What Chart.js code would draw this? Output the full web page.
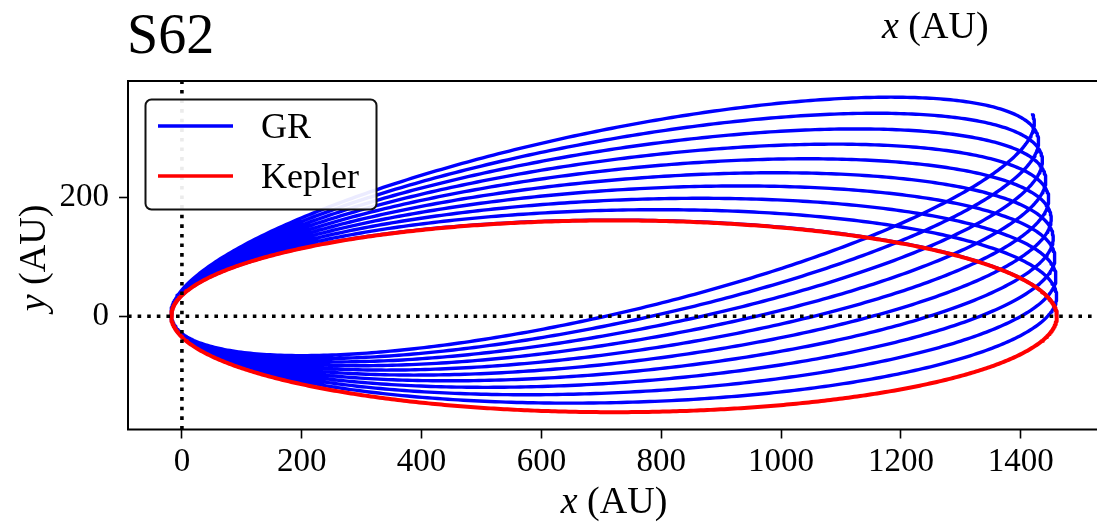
<!DOCTYPE html>
<html><head><meta charset="utf-8">
<script src="https://cdn.jsdelivr.net/npm/chart.js@4/dist/chart.umd.min.js"></script>
<style>
html,body{margin:0;padding:0;background:#fff;overflow:hidden;width:1097px;height:524px}
#wrap{position:absolute;left:0;top:0;width:1200px;height:524px}
</style>
</head><body><div id="wrap"><canvas id="c" width="1200" height="524"></canvas></div>
<script>
// ---- data ----
const panelTitle = 'S62';
const seriesLabels = ['GR', 'Kepler'];
const seriesColors = ['#0000ff', '#ff0000'];
const semiMajorAxisAU = 739;
const eccentricity = 0.976;
// orientation (deg) of the apocentre of each successive GR loop
const grApocentreAnglesDeg = [0, 1.32, 2.64, 3.96, 5.28, 6.60, 7.92, 9.24, 10.56, 11.88, 13.20];
const grFinalOvershootDeg = [0.3];
const keplerApocentreAngleDeg = [0];
const xTickValues = [0, 200, 400, 600, 800, 1000, 1200, 1400];
const yTickValues = [0, 200];
const xRange = [-90, 1574];
const yRange = [-190, 395];
const xAxisLabel = ['x', ' (AU)'];
const yAxisLabel = ['y', ' (AU)'];

// ---- build trajectories (orbit equation) ----
const bAU = semiMajorAxisAU * Math.sqrt(1 - eccentricity * eccentricity);
const kFac = Math.sqrt((1 - eccentricity) / (1 + eccentricity));
function posAt(Ep, omegaDeg) {
  const X = semiMajorAxisAU * (eccentricity + Math.cos(Ep));
  const Y = bAU * Math.sin(Ep);
  const w = omegaDeg * Math.PI / 180;
  return {x: X * Math.cos(w) - Y * Math.sin(w), y: X * Math.sin(w) + Y * Math.cos(w)};
}
function psiOf(Ep) { return 2 * Math.atan2(kFac * Math.sin(Ep / 2), Math.cos(Ep / 2)); }
function loop(w0, w1, n) {
  const pts = [];
  for (let i = 0; i <= n; i++) {
    const Ep = 2 * Math.PI * i / n;
    const f = psiOf(Ep) / (2 * Math.PI);
    pts.push(posAt(Ep, w0 + (w1 - w0) * f));
  }
  return pts;
}
const grPoints = [];
for (let k = 0; k < grApocentreAnglesDeg.length - 1; k++) {
  const p = loop(grApocentreAnglesDeg[k], grApocentreAnglesDeg[k + 1], 500);
  if (k > 0) p.shift();
  grPoints.push(...p);
}
(function () {
  const wLast = grApocentreAnglesDeg[grApocentreAnglesDeg.length - 1];
  const psiEnd = grFinalOvershootDeg[0] * Math.PI / 180;
  const EpEnd = 2 * Math.atan(Math.tan(psiEnd / 2) / kFac);
  for (let i = 1; i <= 20; i++) grPoints.push(posAt(EpEnd * i / 20, wLast));
})();
const keplerPoints = loop(keplerApocentreAngleDeg[0], keplerApocentreAngleDeg[0], 800);

const SERIF = "'Liberation Serif', 'Times New Roman', serif";

function mixedText(ctx, parts, x, y, size, align) {
  const fonts = ['italic ' + size + 'px ' + SERIF, size + 'px ' + SERIF];
  let total = 0; const ws = [];
  parts.forEach((p, i) => { ctx.font = fonts[i]; const w = ctx.measureText(p).width; ws.push(w); total += w; });
  let cx = align === 'center' ? x - total / 2 : x;
  parts.forEach((p, i) => { ctx.font = fonts[i]; ctx.fillText(p, cx, y); cx += ws[i]; });
}

const decor = {
  id: 'decor',
  afterDraw(chart) {
    const ctx = chart.ctx, ca = chart.chartArea;
    ctx.save();
    // frame
    ctx.strokeStyle = '#000'; ctx.lineWidth = 2;
    ctx.strokeRect(ca.left, ca.top, ca.right - ca.left, ca.bottom - ca.top);
    // legend
    const lx = 145.5, ly = 99.5, lw = 231, lh = 110, r = 6;
    ctx.beginPath();
    ctx.moveTo(lx + r, ly); ctx.lineTo(lx + lw - r, ly); ctx.arcTo(lx + lw, ly, lx + lw, ly + r, r);
    ctx.lineTo(lx + lw, ly + lh - r); ctx.arcTo(lx + lw, ly + lh, lx + lw - r, ly + lh, r);
    ctx.lineTo(lx + r, ly + lh); ctx.arcTo(lx, ly + lh, lx, ly + lh - r, r);
    ctx.lineTo(lx, ly + r); ctx.arcTo(lx, ly, lx + r, ly, r); ctx.closePath();
    ctx.fillStyle = 'rgba(255,255,255,0.92)'; ctx.fill();
    ctx.strokeStyle = '#111'; ctx.lineWidth = 2; ctx.stroke();
    const rows = [126, 176], bases = [138, 188];
    seriesLabels.forEach((lab, i) => {
      ctx.strokeStyle = seriesColors[i]; ctx.lineWidth = 3.6;
      ctx.beginPath(); ctx.moveTo(158, rows[i]); ctx.lineTo(233, rows[i]); ctx.stroke();
      ctx.fillStyle = '#000'; ctx.font = '36px ' + SERIF; ctx.textAlign = 'left'; ctx.textBaseline = 'alphabetic';
      ctx.fillText(lab, 261, bases[i]);
    });
    // texts
    ctx.fillStyle = '#000'; ctx.textBaseline = 'alphabetic'; ctx.textAlign = 'left';
    ctx.font = '56px ' + SERIF; ctx.fillText(panelTitle, 127, 53);
    mixedText(ctx, xAxisLabel, 882, 38, 38, 'left');
    mixedText(ctx, xAxisLabel, 614, 513, 38, 'center');
    ctx.translate(45, 258); ctx.rotate(-Math.PI / 2);
    mixedText(ctx, yAxisLabel, 0, 0, 38, 'center');
    ctx.restore();
  }
};

const tickFont = {family: SERIF, size: 33};
const gridOpts = {display: true, drawOnChartArea: false, drawTicks: true, tickLength: 9, tickWidth: 1.6, tickColor: '#000'};

new Chart(document.getElementById('c'), {
  type: 'scatter',
  data: {
    datasets: [
      {label: 'x0', data: [{x: 0, y: yRange[0]}, {x: 0, y: yRange[1]}], showLine: true, borderColor: '#000', borderWidth: 3.6, borderDash: [3.6, 6], pointRadius: 0, order: 0},
      {label: 'y0', data: [{x: xRange[0], y: 0}, {x: xRange[1], y: 0}], showLine: true, borderColor: '#000', borderWidth: 3.6, borderDash: [3.6, 6], pointRadius: 0, order: 0},
      {label: seriesLabels[1], data: keplerPoints, showLine: true, borderColor: seriesColors[1], borderWidth: 4, borderJoinStyle: 'round', pointRadius: 0, order: 1},
      {label: seriesLabels[0], data: grPoints, showLine: true, borderColor: seriesColors[0], borderWidth: 3.4, borderJoinStyle: 'round', pointRadius: 0, order: 2}
    ]
  },
  options: {
    responsive: false, animation: false, devicePixelRatio: 1,
    events: [],
    layout: {padding: {left: 0, top: 81, right: 75, bottom: 0}},
    plugins: {legend: {display: false}, tooltip: {enabled: false}, title: {display: false}},
    scales: {
      x: {
        type: 'linear', min: xRange[0], max: xRange[1],
        afterBuildTicks: s => { s.ticks = xTickValues.map(v => ({value: v})); },
        afterFit: s => { s.height = 94.5; },
        ticks: {font: tickFont, color: '#000', padding: 4, callback: v => String(v), maxRotation: 0, autoSkip: false},
        grid: gridOpts, border: {display: false}
      },
      y: {
        type: 'linear', min: yRange[0], max: yRange[1],
        afterBuildTicks: s => { s.ticks = yTickValues.map(v => ({value: v})); },
        afterFit: s => { s.width = 128; },
        ticks: {font: tickFont, color: '#000', padding: 10, callback: v => String(v), autoSkip: false},
        grid: gridOpts, border: {display: false}
      }
    }
  },
  plugins: [decor]
});
</script>
</body></html>
